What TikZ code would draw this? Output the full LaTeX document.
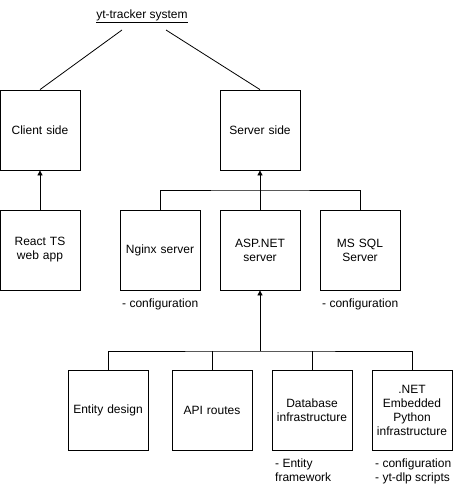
\documentclass[tikz,border=0pt]{standalone}
\usepackage{fontspec}
\setmainfont{Liberation Sans}
\usetikzlibrary{arrows.meta}
\begin{document}
\begin{tikzpicture}[x=1pt,y=-1pt,
  box/.style={draw,line width=0.8pt,minimum width=80pt,minimum height=80pt,inner sep=2pt,align=center,font=\fontsize{12}{14}\selectfont,text width=76pt},
  lbl/.style={inner sep=0pt,align=left,font=\fontsize{12}{14}\selectfont,anchor=north west},
  conn/.style={line width=0.8pt},
  arr/.style={line width=0.8pt,-{Triangle[length=5pt,width=5pt]}}]
\useasboundingbox (0,0) rectangle (454,495);
\node[inner sep=0pt,font=\fontsize{12}{14}\selectfont] (title) at (142,16) {\underline{yt-tracker system}};
\coordinate (tl) at (122,30);
\coordinate (tr) at (166,30);
\node[box] (client) at (40,130) {Client side};
\node[box] (server) at (260,130) {Server side};
\node[box] (react) at (40,250) {React TS\\web app};
\node[box] (nginx) at (160,250) {Nginx server};
\node[box] (asp) at (260,250) {ASP.NET\\server};
\node[box] (sql) at (360,250) {MS SQL\\Server};
\node[box] (entity) at (108,410) {Entity design};
\node[box] (api) at (212,410) {API routes};
\node[box] (db) at (312,410) {Database\\infrastructure};
\node[box] (py) at (412,410) {.NET\\Embedded\\Python\\infrastructure};
\node[lbl] (nginxl) at (122,299) {- configuration};
\node[lbl] (sqll) at (322,299) {- configuration};
\node[lbl] (dbl) at (275,459) {- Entity\\framework};
\node[lbl] (pyl) at (375,459) {- configuration\\- yt-dlp scripts};
\draw[conn] (tl) -- (client.north);
\draw[conn] (tr) -- (server.north);
\draw[arr] (react.north) -- (client.south);
\draw[conn] (nginx.north) |- (260,190) -| (sql.north);
\draw[arr] (asp.north) -- (server.south);
\draw[conn] (entity.north) |- (260,351) -| (py.north);
\draw[conn] (api.north) -- (api.north |- 0,351);
\draw[conn] (db.north) -- (db.north |- 0,351);
\draw[arr] (260,351) -- (asp.south);
\end{tikzpicture}
\end{document}
